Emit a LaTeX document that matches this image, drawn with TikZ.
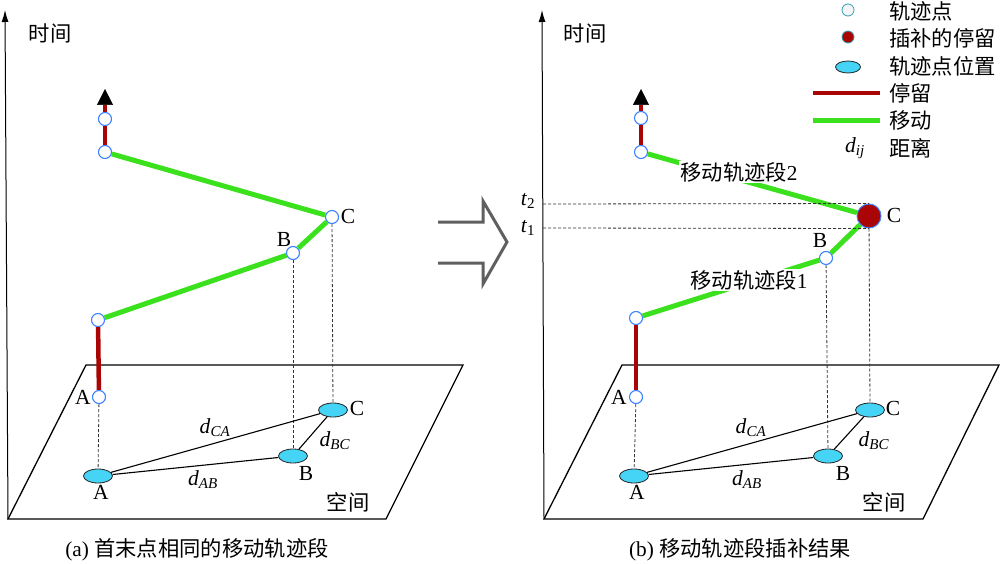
\documentclass[tikz,border=0pt]{standalone}
\usepackage{fontspec}
\setmainfont{Liberation Serif}
\newfontfamily\cjk{Noto Sans CJK SC}
\usetikzlibrary{arrows.meta,shapes.geometric}
\definecolor{tpblue}{RGB}{60,130,255}
\definecolor{stayred}{RGB}{170,5,5}
\definecolor{movegreen}{RGB}{60,225,30}
\definecolor{loccyan}{RGB}{70,212,246}
\definecolor{arrgray}{RGB}{95,95,95}
\definecolor{legteal}{RGB}{50,160,180}
\begin{document}
\begin{tikzpicture}[x=1pt,y=-1pt,
  every node/.style={font=\fontsize{21.3}{24}\selectfont, inner sep=0pt},
  lat/.style={font=\fontsize{21.5}{24}\selectfont},
  tp/.style={circle,draw=tpblue,fill=white,line width=1.1pt,minimum size=13pt,inner sep=0pt},
  bigdot/.style={circle,draw=tpblue,fill=stayred,line width=1pt,minimum size=24pt,inner sep=0pt},
  loc/.style={ellipse,draw=black!85,fill=loccyan,line width=0.8pt,minimum width=29pt,minimum height=14pt,inner sep=0pt},
  stay/.style={draw=stayred,line width=4.5pt},
  move/.style={draw=movegreen,line width=5pt},
  proj/.style={draw=black!80,dash pattern=on 3pt off 2pt,line width=0.8pt},
  dist/.style={draw=black,line width=1.1pt},
  plane/.style={draw=black,line width=1.3pt},
  taxis/.style={draw=black,line width=1pt,-{Latex[length=12pt,width=7pt]}},
  uptip/.style={-{Triangle[length=16pt,width=16pt,line width=0.5pt,color=black]}},
  bigarrow/.style={draw=arrgray,line width=3pt},
  seglabel/.style={fill=white,inner sep=1pt}
]
\useasboundingbox (0,0) rectangle (1000,564);

% ---------------- panel (a) ----------------
\draw[plane] (86,365) -- (463,365) -- (386,519) -- (8,519) -- cycle;
\coordinate (aax0) at (8,519);
\coordinate (aax1) at (5,10);
\draw[taxis] (aax0) -- (aax1);
\node (atime) at (50,33) {\cjk 时间};

\node[tp] (aP1) at (105,119) {};
\node[tp] (aP2) at (105,152) {};
\node[tp] (aC) at (332,217) {};
\node[tp] (aB) at (293,253) {};
\node[tp] (aP5) at (98,320) {};
\node[tp] (aA) at (99,397) {};
\node[loc] (aLA) at (98,476) {};
\node[loc] (aLB) at (293,456) {};
\node[loc] (aLC) at (333,410) {};

\coordinate (aTip) at (105,89);
\draw[stay,uptip] (aP1) -- (aTip);
\draw[stay] (aP1) -- (aP2);
\draw[stay] (aP5) -- (aA);
\draw[move] (aP2) -- (aC);
\draw[move] (aC) -- (aB);
\draw[move] (aB) -- (aP5);

\draw[proj] (aA) -- (aLA);
\draw[proj] (aB) -- (aLB);
\draw[proj] (aC) -- (aLC);
\draw[dist] (aLA) -- (aLC);
\draw[dist] (aLA) -- (aLB);
\draw[dist] (aLB) -- (aLC);

\node[lat] (aCl) at (348,216) {C};
\node[lat] (aBl) at (284,239) {B};
\node[lat] (aAl) at (83,397) {A};
\node[lat] (aAl2) at (101,492) {A};
\node[lat] (aBl2) at (306,473) {B};
\node[lat] (aCl2) at (357,408) {C};
\node[lat] (adCA) at (215,428) {\textit{d}\textsubscript{\textit{CA}}};
\node[lat] (adAB) at (203,480) {\textit{d}\textsubscript{\textit{AB}}};
\node[lat] (adBC) at (335,441) {\textit{d}\textsubscript{\textit{BC}}};
\node (asp) at (348,502) {\cjk 空间};
\node (acap) at (197,550) {(a) {\cjk 首末点相同的移动轨迹段}};

% ---------------- middle arrow ----------------
\draw[bigarrow] (438,222) -- (483,222) -- (483,201) -- (507,242) -- (483,284) -- (483,263) -- (438,263);

% ---------------- panel (b) ----------------
\draw[plane] (622,365) -- (999,365) -- (923,519) -- (544,519) -- cycle;
\coordinate (bax0) at (544,519);
\coordinate (bax1) at (542,10);
\draw[taxis] (bax0) -- (bax1);
\node (btime) at (585,33) {\cjk 时间};

\node[tp] (bP1) at (641,118) {};
\node[tp] (bP2) at (641,152) {};
\node[bigdot] (bC) at (869,216) {};
\node[tp] (bB) at (826,258) {};
\node[tp] (bP5) at (636,318) {};
\node[tp] (bA) at (636,397) {};
\node[loc] (bLA) at (634,476) {};
\node[loc] (bLB) at (828,456) {};
\node[loc] (bLC) at (870,410) {};

\coordinate (bTip) at (641,89);
\draw[stay,uptip] (bP1) -- (bTip);
\draw[stay] (bP1) -- (bP2);
\draw[stay] (bP5) -- (bA);
\draw[move] (bP2) -- (bC);
\draw[move] (bC) -- (bB);
\draw[move] (bB) -- (bP5);

\coordinate (bt2) at (543,204);
\coordinate (bt1) at (543,228);
\draw[proj] (bt2) -- (bC.north);
\draw[proj] (bt1) -- (bC.south);
\node[lat] (bt2l) at (528,201) {\textit{t}\textsubscript{2}};
\node[lat] (bt1l) at (528,228) {\textit{t}\textsubscript{1}};

\draw[proj] (bA) -- (bLA);
\draw[proj] (bB) -- (bLB);
\draw[proj] (bC) -- (bLC);
\draw[dist] (bLA) -- (bLC);
\draw[dist] (bLA) -- (bLB);
\draw[dist] (bLB) -- (bLC);

\node[seglabel] (bseg2) at (739,172) {{\cjk 移动轨迹段}2};
\node[seglabel] (bseg1) at (749,280) {{\cjk 移动轨迹段}1};

\node[lat] (bCl) at (894,215) {C};
\node[lat] (bBl) at (820,240) {B};
\node[lat] (bAl) at (619,397) {A};
\node[lat] (bAl2) at (637,492) {A};
\node[lat] (bBl2) at (843,473) {B};
\node[lat] (bCl2) at (893,408) {C};
\node[lat] (bdCA) at (751,428) {\textit{d}\textsubscript{\textit{CA}}};
\node[lat] (bdAB) at (747,480) {\textit{d}\textsubscript{\textit{AB}}};
\node[lat] (bdBC) at (874,441) {\textit{d}\textsubscript{\textit{BC}}};
\node (bsp) at (884,502) {\cjk 空间};
\node (bcap) at (740,550) {(b) {\cjk 移动轨迹段插补结果}};

% ---------------- legend ----------------
\node[circle,draw=legteal,fill=gray!8,line width=0.8pt,minimum size=12pt] (lg1) at (848,10) {};
\node[anchor=west] (lg1t) at (889,11) {\cjk 轨迹点};
\node[circle,draw=legteal,fill=stayred,line width=0.8pt,minimum size=12pt] (lg2) at (848,37) {};
\node[anchor=west] (lg2t) at (889,38) {\cjk 插补的停留};
\node[loc,minimum width=25pt,minimum height=12pt] (lg3) at (848,67) {};
\node[anchor=west] (lg3t) at (889,66) {\cjk 轨迹点位置};
\coordinate (lg4a) at (813,93);
\coordinate (lg4b) at (880,93);
\draw[stay] (lg4a) -- (lg4b);
\node[anchor=west] (lg4t) at (889,93) {\cjk 停留};
\coordinate (lg5a) at (813,121);
\coordinate (lg5b) at (880,121);
\draw[move] (lg5a) -- (lg5b);
\node[anchor=west] (lg5t) at (889,120) {\cjk 移动};
\node[lat] (lg6) at (855,148) {\textit{d}\textsubscript{\textit{ij}}};
\node[anchor=west] (lg6t) at (889,148) {\cjk 距离};
\end{tikzpicture}
\end{document}
